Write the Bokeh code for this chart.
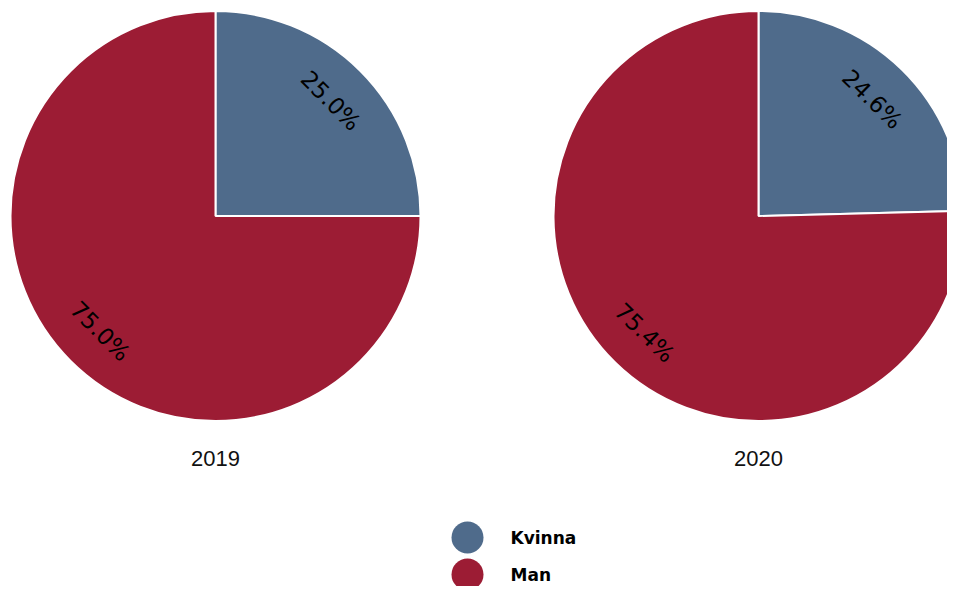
import numpy as np
from bokeh.plotting import figure
from bokeh.models import Range1d, ColumnDataSource
from bokeh.core.properties import value
from bokeh.embed import file_html
from bokeh.resources import INLINE

# ---- data ----
years = ["2019", "2020"]
categories = ["Kvinna", "Man"]
kvinna_pct = [25.0, 24.6]
man_pct = [75.0, 75.4]
colors = ["#4f6b8b", "#9c1c34"]

# ---- layout (page pixels) ----
W, H = 947, 586
def px(x):  # page x -> data x
    return x
def py(y):  # page y -> data y
    return 586 - y

centers_x = [215, 758]
center_y = 215.5
R = 205
label_r = 163

p = figure(width=W, height=H, x_range=Range1d(0, W), y_range=Range1d(0, H),
           output_backend="svg", toolbar_location=None, min_border=0,
           background_fill_color="white", border_fill_color="white")
p.axis.visible = False
p.xgrid.visible = False
p.ygrid.visible = False
p.outline_line_color = None

wx, wy, ws, we, wc = [], [], [], [], []
lx, ly, lt, la = [], [], [], []
for i, yr in enumerate(years):
    vals = [kvinna_pct[i], man_pct[i]]
    total = sum(vals)
    cx, cy = px(centers_x[i]), py(center_y)
    end = np.pi / 2  # start at top, go clockwise
    for j, v in enumerate(vals):
        sweep = v / total * 2 * np.pi
        start = end - sweep
        wx.append(cx); wy.append(cy); ws.append(start); we.append(end); wc.append(colors[j])
        mid = (start + end) / 2
        lx.append(cx + label_r * np.cos(mid))
        ly.append(cy + label_r * np.sin(mid))
        rot = mid - np.pi / 2
        while rot > np.pi / 2:
            rot -= np.pi
        while rot <= -np.pi / 2:
            rot += np.pi
        la.append(rot)
        lt.append(f"{v:.1f}%")
        end = start

wsrc = ColumnDataSource(dict(x=wx, y=wy, s=ws, e=we, c=wc))
p.wedge(x="x", y="y", radius=R, radius_units="screen", start_angle="s", end_angle="e",
        fill_color="c", line_color="white", line_width=2, source=wsrc)

lsrc = ColumnDataSource(dict(x=lx, y=ly, t=lt, a=la))
p.text(x="x", y="y", text="t", angle="a", source=lsrc,
       text_font=value("DejaVu Sans"), text_font_size="23px",
       text_align="center", text_baseline="middle", text_color="black")

ysrc = ColumnDataSource(dict(x=[px(c) for c in centers_x], y=[py(458)] * len(years), t=years))
p.text(x="x", y="y", text="t", source=ysrc,
       text_font=value("Liberation Sans"), text_font_size="22px",
       text_align="center", text_baseline="middle", text_color="#111111")

# legend
leg_y = [py(537), py(574)]
gsrc = ColumnDataSource(dict(x=[px(467)] * 2, y=leg_y, c=colors, t=categories,
                             tx=[px(510)] * 2))
p.scatter(x="x", y="y", size=32, marker="circle", fill_color="c", line_color=None, source=gsrc)
p.text(x="tx", y="y", text="t", source=gsrc,
       text_font=value("DejaVu Sans"), text_font_style="bold", text_font_size="17px",
       text_align="left", text_baseline="middle", text_color="black")

open("out.html", "w").write(file_html(p, INLINE))
